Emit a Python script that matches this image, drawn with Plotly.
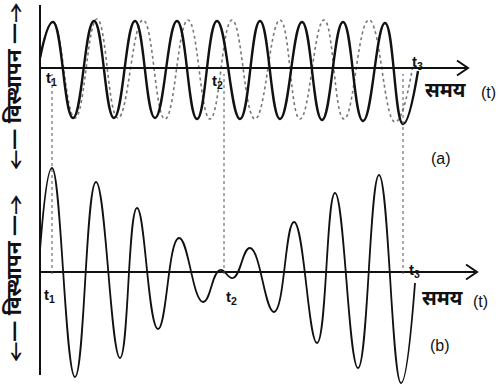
import plotly.graph_objects as go

# time in arbitrary units, displacement in arbitrary units
# (a) two waves of slightly different frequency: start, crests/troughs, end
t_wave1 = [0.0, 1.3, 3.3, 5.4, 7.4, 9.5, 11.5, 13.7, 15.7, 17.7, 20.0, 22.0, 24.0,
           26.2, 28.2, 30.3, 32.3, 34.5, 36.3, 37.8]
d_wave1 = [1.0, 4.6, -5.0, 4.7, -5.0, 4.7, -5.0, 4.7, -5.1, 4.7, -5.1, 4.7, -5.1,
           4.6, -5.2, 4.6, -5.3, 4.5, -5.6, -0.3]

t_wave2 = [0.0, 1.3, 3.5, 5.7, 7.8, 10.3, 12.5, 14.8, 17.0, 19.2, 21.5, 24.0, 26.0,
           28.4, 30.4, 32.9, 35.5, 37.3]
d_wave2 = [1.0, 4.6, -5.0, 4.9, -5.0, 4.8, -5.1, 4.8, -5.1, 4.8, -5.1, 4.8, -5.1,
           4.8, -5.1, 4.8, -5.4, 0.3]

# (b) resultant wave (beats)
t_sum = [0.0, 1.2, 3.5, 5.6, 8.0, 9.7, 11.8, 13.9, 16.3, 18.0, 19.3, 21.0, 23.4,
         25.4, 27.7, 29.5, 31.8, 33.9, 36.1, 37.5]
d_sum = [2.2, 10.4, -10.5, 9.0, -8.6, 6.4, -5.7, 3.4, -3.0, 0.2, -0.6, 2.4, -4.0,
         5.0, -7.1, 7.9, -9.6, 9.7, -11.1, -1.1]

t_marks = [1.2, 18.4, 36.3]
t_labels = ["t<sub>1</sub>", "t<sub>2</sub>", "t<sub>3</sub>"]

HINDI = "Noto Sans Devanagari, Lohit Devanagari, FreeSans, Noto Sans, sans-serif"
LATIN = "Liberation Sans, Arial, sans-serif"

fig = go.Figure()
fig.add_trace(go.Scatter(x=t_wave2, y=d_wave2, mode="lines", line_shape="spline",
                         line=dict(color="#777", width=1.6, dash="dot", smoothing=1.3),
                         yaxis="y"))
fig.add_trace(go.Scatter(x=t_wave1, y=d_wave1, mode="lines", line_shape="spline",
                         line=dict(color="#111", width=2.4, smoothing=1.3),
                         yaxis="y"))
fig.add_trace(go.Scatter(x=t_sum, y=d_sum, mode="lines", line_shape="spline",
                         line=dict(color="#111", width=1.8, smoothing=1.3),
                         yaxis="y2"))

shapes = []
# vertical displacement axis
shapes.append(dict(type="line", xref="x", yref="paper", x0=0, x1=0, y0=0.026, y1=0.987,
                   line=dict(color="#111", width=2)))
# time axes with open arrow heads
for yref, end in (("y", 42.8), ("y2", 43.7)):
    shapes.append(dict(type="line", xref="x", yref=yref, x0=0, x1=end, y0=0, y1=0,
                       line=dict(color="#111", width=2)))
    shapes.append(dict(type="path", xref="x", yref=yref,
                       path=f"M {end-1.1} 0.75 L {end} 0 L {end-1.1} -0.75",
                       line=dict(color="#111", width=2)))
# dotted markers at t1, t2, t3
for tm in t_marks:
    shapes.append(dict(type="line", xref="x", yref="paper", x0=tm, x1=tm,
                       y0=1 - 274 / 385, y1=1 - 74 / 385,
                       line=dict(color="#555", width=1, dash="dot")))

ann = []


def label(px, py, text, size, family=LATIN, angle=0):
    ann.append(dict(x=px / 500, y=1 - py / 385, xref="paper", yref="paper", text=text,
                    showarrow=False, textangle=angle, xanchor="center", yanchor="middle",
                    font=dict(size=size, family=family, color="#111")))


for (px, py), tl in zip([(51, 79), (217, 82), (417, 63)], t_labels):
    label(px, py, "<b>" + tl + "</b>", 15)
for (px, py), tl in zip([(49, 295), (231, 297), (414, 270)], t_labels):
    label(px, py, "<b>" + tl + "</b>", 15)

label(445, 92, "<b>समय</b>", 20, HINDI)
label(488, 93, "(t)", 16)
label(442, 300, "<b>समय</b>", 20, HINDI)
label(480, 301, "(t)", 16)
label(441, 158, "(a)", 16)
label(440, 345, "(b)", 16)
label(16, 87, "<b>←— विस्थापन —→</b>", 21, HINDI, -90)
label(16, 279, "<b>←— विस्थापन —→</b>", 21, HINDI, -90)

fig.update_layout(
    width=500, height=385,
    margin=dict(l=0, r=0, t=0, b=0),
    paper_bgcolor="white", plot_bgcolor="white",
    showlegend=False,
    xaxis=dict(range=[-4, 46], visible=False),
    yaxis=dict(range=[-31.7, 6.8], visible=False),
    yaxis2=dict(range=[-11.3, 27.2], visible=False, overlaying="y"),
    shapes=shapes,
    annotations=ann,
)

fig.write_html("out.html", config={"displayModeBar": False},
               post_script="document.body.style.margin='0';")
